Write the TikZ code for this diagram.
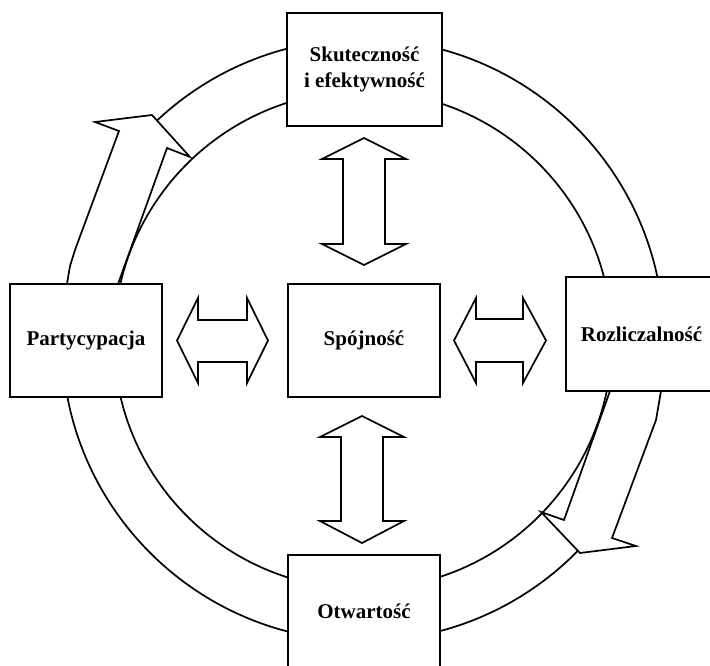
\documentclass[tikz,border=0pt]{standalone}
\usepackage{fontspec}
\setmainfont{Liberation Serif}
\begin{document}
\begin{tikzpicture}[x=1pt,y=-1pt,
  box/.style={draw, line width=2pt, fill=white, inner sep=0pt,
    font=\fontsize{21}{26}\selectfont\bfseries, align=center},
  ring/.style={line width=1.7pt},
  blockarrow/.style={draw, line width=1.7pt, fill=white, line join=miter}]
\useasboundingbox (0,0) rectangle (710,665);
\clip (0,0) rectangle (710,665);
% ring
\draw[ring] (363,340) circle[radius=301pt];
\draw[ring] (363,340) circle[radius=249pt];
% curved block arrows (clockwise)
\draw[blockarrow] (67,284) -- (70,266) -- (75,250) -- (119,131) -- (95,122) -- (152,115) -- (190,157) -- (167,148) -- (118,284) -- cycle;
\draw[blockarrow] (610,391) -- (564,520) -- (541,512) -- (580,553) -- (636,546) -- (612,538) -- (656,420) -- (661,391) -- cycle;
% double arrows
\draw[blockarrow] (177,340.5) -- (198,298) -- (198,320) -- (247,320) -- (247,298) -- (268,340.5) -- (247,383) -- (247,362) -- (198,362) -- (198,383) -- cycle;
\draw[blockarrow] (454,340.5) -- (476,298) -- (476,319) -- (523,319) -- (523,298) -- (546,340.5) -- (523,383) -- (523,362) -- (476,362) -- (476,383) -- cycle;
\draw[blockarrow] (364,138) -- (406,159) -- (385,159) -- (385,244) -- (406,244) -- (364,265) -- (322,244) -- (343,244) -- (343,159) -- (322,159) -- cycle;
\draw[blockarrow] (362,416) -- (404,437) -- (383,437) -- (383,521) -- (404,521) -- (362,543) -- (320,521) -- (341,521) -- (341,437) -- (320,437) -- cycle;
% boxes
\node[box, minimum width=155pt, minimum height=113pt] (top) at (364.5,69.5) {Skuteczność\\i efektywność};
\node[box, minimum width=152pt, minimum height=113pt] (left) at (86,340.5) {Partycypacja};
\node[box, minimum width=152pt, minimum height=113pt] (center) at (364,340.5) {Spójność};
\node[box, minimum width=151pt, minimum height=114pt] (right) at (641.5,334) {Rozliczalność};
\node[box, minimum width=152pt, minimum height=113pt] (bottom) at (364,611.5) {Otwartość};
\end{tikzpicture}
\end{document}
